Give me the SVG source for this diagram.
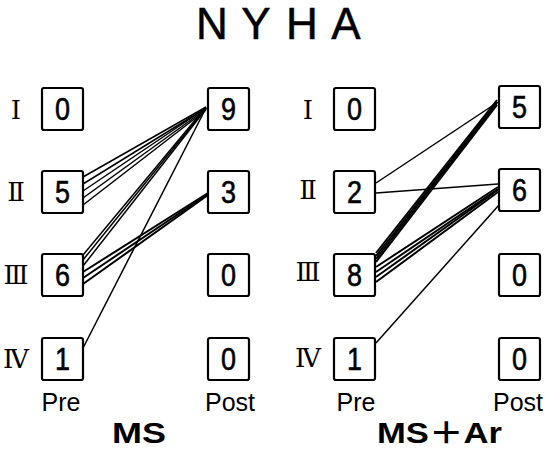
<svg xmlns="http://www.w3.org/2000/svg" width="545" height="450" viewBox="0 0 545 450">
<style>
.box rect{fill:#fff;stroke:#000;stroke-width:2.2}
.num{font-family:"Liberation Sans",Arial,sans-serif;font-size:31px;text-anchor:middle;fill:#000;stroke:#000;stroke-width:0.6}
.rom{font-family:"DejaVu Serif","Noto Sans CJK JP",serif;font-size:26px;text-anchor:middle;fill:#000}
.lbl{font-family:"Liberation Sans",Arial,sans-serif;font-size:25px;text-anchor:middle;fill:#000}
.grp{font-family:"Liberation Sans","Noto Sans CJK JP",sans-serif;font-size:30px;font-weight:bold;fill:#000}
.ttl{font-family:"Liberation Sans",Arial,sans-serif;font-size:44px;text-anchor:middle;fill:#000;stroke:#000;stroke-width:0.5}
#connectors line{stroke:#000;stroke-width:1.5;fill:none}
#connectors line.b{stroke-width:2}
</style>
<rect width="545" height="450" fill="#fff"/>
<text class="ttl" x="212 256 302 346" y="39">NYHA</text>

<g id="connectors">
  <!-- MS: II -> 9 -->
  <line x1="83" y1="177" x2="206" y2="107"/>
  <line x1="83" y1="184" x2="206" y2="108"/>
  <line x1="83" y1="191" x2="206" y2="108"/>
  <line x1="83" y1="198" x2="206" y2="109"/>
  <line x1="83" y1="205" x2="206" y2="110"/>
  <!-- MS: III -> 9 -->
  <line x1="83" y1="255" x2="206" y2="107"/>
  <line x1="83" y1="260" x2="206" y2="108"/>
  <line x1="83" y1="266" x2="206" y2="109"/>
  <!-- MS: III -> 3 -->
  <line class="b" x1="83" y1="272" x2="208" y2="193"/>
  <line class="b" x1="83" y1="278" x2="208" y2="194"/>
  <line class="b" x1="83" y1="284" x2="208" y2="195"/>
  <!-- MS: IV -> 9 -->
  <line x1="82" y1="350" x2="206" y2="108"/>
  <!-- MS+Ar: II -> 5, II -> 6 -->
  <line x1="376" y1="183" x2="498" y2="102"/>
  <line x1="376" y1="193" x2="498" y2="184"/>
  <!-- MS+Ar: III -> 5 -->
  <line class="b" x1="376" y1="253" x2="497" y2="100"/>
  <line class="b" x1="376" y1="256" x2="497" y2="102"/>
  <line class="b" x1="376" y1="259" x2="497" y2="103"/>
  <line class="b" x1="376" y1="262" x2="497" y2="105"/>
  <!-- MS+Ar: III -> 6 -->
  <line class="b" x1="376" y1="267" x2="498" y2="187"/>
  <line class="b" x1="376" y1="272" x2="498" y2="189"/>
  <line class="b" x1="376" y1="277" x2="498" y2="190"/>
  <line class="b" x1="376" y1="282" x2="498" y2="192"/>
  <!-- MS+Ar: IV -> 6 -->
  <line x1="376" y1="343" x2="499" y2="205"/>
</g>

<!-- Row labels -->
<g id="rows-left">
  <text class="rom" x="16" y="119">Ⅰ</text>
  <text class="rom" x="16" y="201">Ⅱ</text>
  <text class="rom" x="16" y="284">Ⅲ</text>
  <text class="rom" x="16" y="368">Ⅳ</text>
</g>
<g id="rows-right">
  <text class="rom" x="308" y="119">Ⅰ</text>
  <text class="rom" x="308" y="199">Ⅱ</text>
  <text class="rom" x="308" y="281">Ⅲ</text>
  <text class="rom" x="308" y="367">Ⅳ</text>
</g>

<!-- MS Pre -->
<g id="ms-pre-1" class="box"><rect x="42" y="88" width="41" height="42" rx="2"/><text class="num" x="62.5" y="120" textLength="15" lengthAdjust="spacingAndGlyphs">0</text></g>
<g id="ms-pre-2" class="box"><rect x="42" y="171" width="41" height="42" rx="2"/><text class="num" x="62.5" y="203" textLength="15" lengthAdjust="spacingAndGlyphs">5</text></g>
<g id="ms-pre-3" class="box"><rect x="42" y="254" width="41" height="42" rx="2"/><text class="num" x="62.5" y="286" textLength="15" lengthAdjust="spacingAndGlyphs">6</text></g>
<g id="ms-pre-4" class="box"><rect x="42" y="338" width="41" height="42" rx="2"/><text class="num" x="62.5" y="370" textLength="15" lengthAdjust="spacingAndGlyphs">1</text></g>
<!-- MS Post -->
<g id="ms-post-1" class="box"><rect x="208" y="88" width="41" height="42" rx="2"/><text class="num" x="228.5" y="120" textLength="15" lengthAdjust="spacingAndGlyphs">9</text></g>
<g id="ms-post-2" class="box"><rect x="208" y="171" width="41" height="42" rx="2"/><text class="num" x="228.5" y="203" textLength="15" lengthAdjust="spacingAndGlyphs">3</text></g>
<g id="ms-post-3" class="box"><rect x="208" y="254" width="41" height="42" rx="2"/><text class="num" x="228.5" y="286" textLength="15" lengthAdjust="spacingAndGlyphs">0</text></g>
<g id="ms-post-4" class="box"><rect x="208" y="338" width="41" height="42" rx="2"/><text class="num" x="228.5" y="370" textLength="15" lengthAdjust="spacingAndGlyphs">0</text></g>
<!-- MS+Ar Pre -->
<g id="msar-pre-1" class="box"><rect x="334" y="88" width="41" height="42" rx="2"/><text class="num" x="354.5" y="120" textLength="15" lengthAdjust="spacingAndGlyphs">0</text></g>
<g id="msar-pre-2" class="box"><rect x="334" y="171" width="41" height="42" rx="2"/><text class="num" x="354.5" y="203" textLength="15" lengthAdjust="spacingAndGlyphs">2</text></g>
<g id="msar-pre-3" class="box"><rect x="334" y="254" width="41" height="42" rx="2"/><text class="num" x="354.5" y="286" textLength="15" lengthAdjust="spacingAndGlyphs">8</text></g>
<g id="msar-pre-4" class="box"><rect x="334" y="338" width="41" height="42" rx="2"/><text class="num" x="354.5" y="370" textLength="15" lengthAdjust="spacingAndGlyphs">1</text></g>
<!-- MS+Ar Post -->
<g id="msar-post-1" class="box"><rect x="499" y="86" width="41" height="42" rx="2"/><text class="num" x="519.5" y="118" textLength="15" lengthAdjust="spacingAndGlyphs">5</text></g>
<g id="msar-post-2" class="box"><rect x="499" y="169" width="41" height="42" rx="2"/><text class="num" x="519.5" y="201" textLength="15" lengthAdjust="spacingAndGlyphs">6</text></g>
<g id="msar-post-3" class="box"><rect x="499" y="254" width="41" height="42" rx="2"/><text class="num" x="519.5" y="286" textLength="15" lengthAdjust="spacingAndGlyphs">0</text></g>
<g id="msar-post-4" class="box"><rect x="499" y="338" width="41" height="42" rx="2"/><text class="num" x="519.5" y="370" textLength="15" lengthAdjust="spacingAndGlyphs">0</text></g>

<g id="axis-labels">
  <text class="lbl" x="61" y="411">Pre</text>
  <text class="lbl" x="230" y="411">Post</text>
  <text class="lbl" x="356" y="411">Pre</text>
  <text class="lbl" x="518" y="411">Post</text>
</g>
<g id="group-labels">
  <text class="grp" x="112" y="443" textLength="54" lengthAdjust="spacingAndGlyphs">MS</text>
  <text class="grp" x="377" y="443" textLength="125" lengthAdjust="spacingAndGlyphs">MS＋Ar</text>
</g>
</svg>
